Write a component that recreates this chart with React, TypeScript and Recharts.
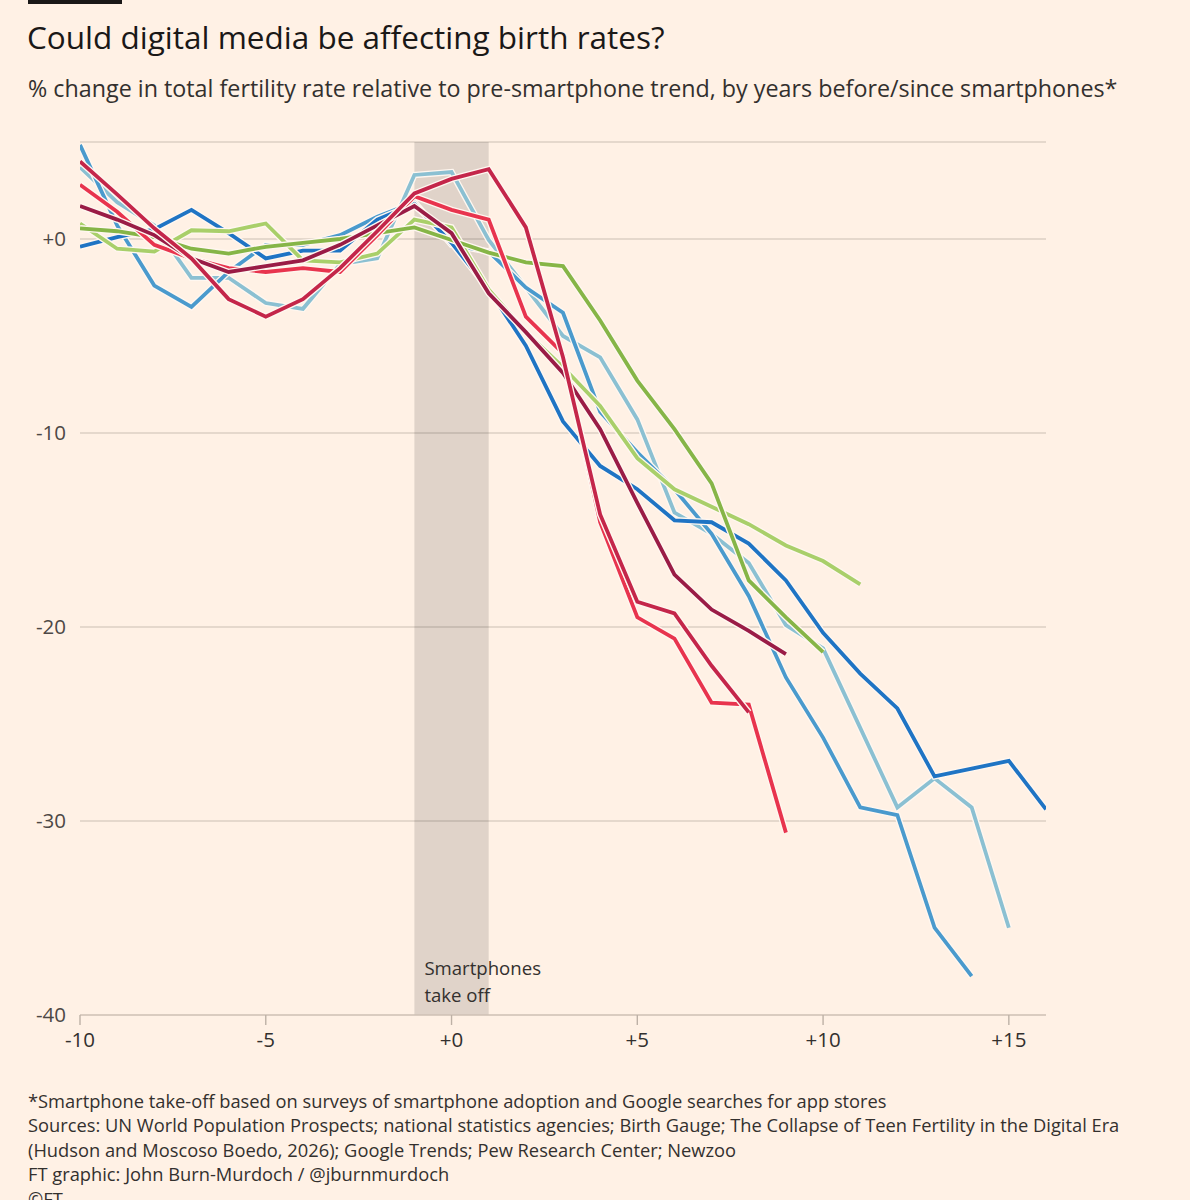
import React from 'react';
import { LineChart, Line, XAxis, YAxis, CartesianGrid, ReferenceArea } from 'recharts';

// years before/since smartphone take-off
const years = [-10, -9, -8, -7, -6, -5, -4, -3, -2, -1, 0, 1, 2, 3, 4, 5, 6, 7, 8, 9, 10, 11, 12, 13, 14, 15, 16];

const darkBlue = [-0.4, 0.1, 0.5, 1.5, 0.3, -1.0, -0.6, -0.6, 1.0, 1.8, -0.2, -2.6, -5.5, -9.4, -11.7, -12.9, -14.5, -14.6, -15.7, -17.6, -20.3, -22.4, -24.2, -27.7, -27.3, -26.9, -29.4];
const midBlue = [4.85, 0.7, -2.4, -3.5, -1.7, -0.3, -0.3, 0.2, 1.15, 1.9, -0.3, -0.65, -2.5, -3.8, -8.9, -11.0, -12.9, -15.2, -18.4, -22.6, -25.7, -29.3, -29.7, -35.5, -38.0];
const lightBlue = [3.7, 1.9, 0.7, -2.0, -2.0, -3.3, -3.6, -1.3, -1.0, 3.3, 3.45, -0.05, -2.5, -5.0, -6.1, -9.3, -14.1, -15.2, -16.7, -19.9, -21.1, -25.2, -29.3, -27.8, -29.3, -35.5];
const lightGreen = [0.8, -0.5, -0.65, 0.45, 0.4, 0.8, -1.1, -1.2, -0.75, 1.0, 0.6, -2.6, -4.8, -6.6, -8.6, -11.3, -12.9, -13.8, -14.7, -15.8, -16.6, -17.8];
const green = [0.55, 0.4, 0.1, -0.5, -0.75, -0.4, -0.2, 0.0, 0.3, 0.6, -0.05, -0.7, -1.2, -1.4, -4.2, -7.3, -9.8, -12.6, -17.6, -19.5, -21.3];
const red = [2.8, 1.4, -0.3, -1.0, -1.5, -1.7, -1.5, -1.7, 0.2, 2.2, 1.5, 1.0, -4.0, -5.9, -14.6, -19.5, -20.6, -23.9, -24.0, -30.6];
const maroon = [1.7, 1.0, 0.2, -1.0, -1.7, -1.4, -1.1, -0.3, 0.7, 1.7, 0.3, -2.8, -4.8, -6.9, -9.8, -13.6, -17.3, -19.1, -20.2, -21.4];
const crimson = [4.0, 2.3, 0.55, -1.0, -3.1, -4.0, -3.1, -1.5, 0.4, 2.35, 3.1, 3.6, 0.6, -6.1, -14.2, -18.7, -19.3, -22.0, -24.4];

const xTicks = [-10, -5, 0, 5, 10, 15];
const yTicks = [-40, -30, -20, -10, 0];

const seriesList = [
  { key: 'lightBlue', values: lightBlue, color: '#8bc0d2' },
  { key: 'midBlue', values: midBlue, color: '#4a9acd' },
  { key: 'darkBlue', values: darkBlue, color: '#1f74c4' },
  { key: 'lightGreen', values: lightGreen, color: '#a9cf6a' },
  { key: 'green', values: green, color: '#86b547' },
  { key: 'red', values: red, color: '#e8344e' },
  { key: 'maroon', values: maroon, color: '#9a1c46' },
  { key: 'crimson', values: crimson, color: '#c4264a' },
];

const data = years.map((x, i) => {
  const row: Record<string, number | undefined> = { x };
  seriesList.forEach((s) => {
    row[s.key] = i < s.values.length ? s.values[i] : undefined;
  });
  return row;
});

const BG = '#fff1e5';
const FONT = '"Open Sans", "Noto Sans", sans-serif';
const TEXT = '#33302e';

const fmtX = (v: number) => (v < 0 ? String(v) : '+' + v);
const fmtY = (v: number) => (v === 0 ? '+0' : String(v));

const takeOffLabel = (props: any) => {
  const vb = props.viewBox || {};
  const x = vb.x + 10;
  const bottom = vb.y + vb.height;
  return (
    <g>
      <text x={x} y={bottom - 40} fill={TEXT} fontSize={18.6} fontFamily={FONT}>Smartphones</text>
      <text x={x} y={bottom - 13} fill={TEXT} fontSize={18.6} fontFamily={FONT}>take off</text>
    </g>
  );
};

export default function App() {
  return (
    <div style={{ position: 'absolute', left: 0, top: 0, width: 1190, height: 1200, background: BG, overflow: 'hidden', fontFamily: FONT, color: TEXT }}>
      <div style={{ position: 'absolute', left: 28, top: 0, width: 94, height: 4, background: '#1a1817' }} />
      <div style={{ position: 'absolute', left: 27, top: 17, fontSize: 31.5, lineHeight: '40px', color: '#1a1817', whiteSpace: 'nowrap' }}>
        Could digital media be affecting birth rates?
      </div>
      <div style={{ position: 'absolute', left: 28, top: 74, fontSize: 23.3, lineHeight: '28px', color: TEXT, whiteSpace: 'nowrap' }}>
        % change in total fertility rate relative to pre-smartphone trend, by years before/since smartphones*
      </div>
      <div style={{ position: 'absolute', left: 0, top: 0 }}>
        <LineChart width={1190} height={1070} data={data} margin={{ top: 142, right: 144, bottom: 15, left: 20 }}>
          <CartesianGrid horizontal vertical={false} stroke="#dccfc3" strokeWidth={1.6} />
          <ReferenceArea x1={-1} x2={1} y1={-40} y2={5} fill="#000000" fillOpacity={0.12} stroke="none" label={takeOffLabel} />
          <XAxis
            dataKey="x"
            type="number"
            domain={[-10, 16]}
            ticks={xTicks}
            tickFormatter={fmtX}
            height={40}
            axisLine={{ stroke: '#d6c9bc', strokeWidth: 1.6 }}
            tickLine={{ stroke: '#bdb1a6', strokeWidth: 1.4 }}
            tickSize={10}
            tickMargin={7}
            tick={{ fill: TEXT, fontSize: 20.5, fontFamily: FONT }}
            allowDataOverflow
          />
          <YAxis
            type="number"
            domain={[-40, 5]}
            ticks={yTicks}
            tickFormatter={fmtY}
            width={60}
            axisLine={false}
            tickLine={false}
            tickSize={0}
            tickMargin={14}
            tick={{ fill: '#4d4845', fontSize: 20.5, fontFamily: FONT }}
            allowDataOverflow
          />
          {seriesList.flatMap((s) => [
            <Line
              key={s.key + '-halo'}
              dataKey={s.key}
              type="linear"
              stroke="#fff7f0"
              strokeWidth={6.5}
              dot={false}
              activeDot={false}
              isAnimationActive={false}
              strokeLinejoin="miter"
              legendType="none"
            />,
            <Line
              key={s.key}
              dataKey={s.key}
              type="linear"
              stroke={s.color}
              strokeWidth={3.8}
              dot={false}
              activeDot={false}
              isAnimationActive={false}
              strokeLinejoin="miter"
            />,
          ])}
        </LineChart>
      </div>
      <div style={{ position: 'absolute', left: 28, top: 1089, fontSize: 18.3, lineHeight: '24.4px', color: TEXT, whiteSpace: 'nowrap' }}>
        <div>*Smartphone take-off based on surveys of smartphone adoption and Google searches for app stores</div>
        <div>Sources: UN World Population Prospects; national statistics agencies; Birth Gauge; The Collapse of Teen Fertility in the Digital Era</div>
        <div>(Hudson and Moscoso Boedo, 2026); Google Trends; Pew Research Center; Newzoo</div>
        <div>FT graphic: John Burn-Murdoch / @jburnmurdoch</div>
        <div>©FT</div>
      </div>
    </div>
  );
}
